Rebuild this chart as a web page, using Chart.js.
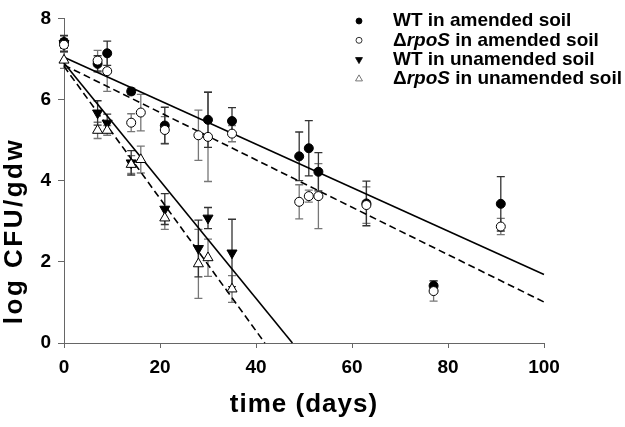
<!DOCTYPE html>
<html>
<head>
<meta charset="utf-8">
<script src="https://cdn.jsdelivr.net/npm/chart.js@4.4.0/dist/chart.umd.min.js"></script>
<style>
  html, body { margin: 0; padding: 0; background: #fff; }
  #wrap { width: 625px; height: 427px; }
</style>
</head>
<body>
<div id="wrap"><canvas id="survivalChart" width="625" height="427"></canvas></div>
<script>
// axis ticks
const xTicks = [0, 20, 40, 60, 80, 100];
const yTicks = [0, 2, 4, 6, 8];

// series: day, log CFU/gdw, error (+/-)
const wtAmendedDays = [0, 7, 9, 14, 21, 30, 35, 49, 51, 53, 63, 77, 91];
const wtAmendedLog  = [7.42, 6.88, 7.14, 6.2, 5.36, 5.5, 5.47, 4.6, 4.8, 4.22, 3.44, 1.41, 3.43];
const wtAmendedErr  = [0.15, 0.2, 0.3, 0.08, 0.45, 0.68, 0.33, 0.6, 0.68, 0.47, 0.55, 0.12, 0.67];

const rpoSAmendedDays = [0, 7, 9, 14, 16, 21, 28, 30, 35, 49, 51, 53, 63, 77, 91];
const rpoSAmendedLog  = [7.35, 6.96, 6.7, 5.43, 5.68, 5.25, 5.12, 5.08, 5.16, 3.48, 3.62, 3.62, 3.4, 1.28, 2.87];
const rpoSAmendedErr  = [0.15, 0.25, 0.5, 0.22, 0.45, 0.33, 0.62, 1.1, 0.2, 0.42, 0.15, 0.8, 0.45, 0.25, 0.2];

const wtUnamendedDays = [0, 7, 9, 14, 21, 28, 30, 35];
const wtUnamendedLog  = [7.38, 5.67, 5.42, 4.44, 3.3, 2.33, 3.08, 2.22];
const wtUnamendedErr  = [0.2, 0.3, 0.22, 0.3, 0.38, 0.7, 0.26, 0.83];

const rpoSUnamendedDays = [0, 7, 9, 14, 16, 21, 28, 30, 35];
const rpoSUnamendedLog  = [6.97, 5.24, 5.24, 4.4, 4.52, 3.08, 1.95, 2.1, 1.33];
const rpoSUnamendedErr  = [0.2, 0.2, 0.12, 0.22, 0.33, 0.28, 0.85, 0.46, 0.33];

// regression lines (same order as series)
const fitIntercept = [7.04, 6.85, 6.9, 6.82];
const fitSlope     = [-0.0535, -0.0584, -0.145, -0.163];

const legendLabels = ['WT in amended soil', '\u0394rpoS in amended soil', 'WT in unamended soil', '\u0394rpoS in unamended soil'];

const FONT = '"Liberation Sans", Arial, sans-serif';

function points(days, vals) {
  return days.map((d, i) => ({ x: d, y: vals[i] }));
}

function fitLine(i) {
  // line stops at x axis or at day 100
  const end = Math.min(100, -fitIntercept[i] / fitSlope[i]);
  return [{ x: 0, y: fitIntercept[i] }, { x: end, y: fitIntercept[i] + fitSlope[i] * end }];
}

const markerStyles = [
  { pointStyle: 'circle', radius: 4.5, rotation: 0, fill: '#000' },
  { pointStyle: 'circle', radius: 4.5, rotation: 0, fill: '#fff' },
  { pointStyle: 'triangle', radius: 5.8, rotation: 180, fill: '#000' },
  { pointStyle: 'triangle', radius: 5.8, rotation: 0, fill: '#fff' }
];

function markerSet(label, days, vals, errs, idx, errColor, order) {
  const m = markerStyles[idx];
  return {
    label: label,
    data: points(days, vals),
    errors: errs,
    errorColor: errColor,
    pointStyle: m.pointStyle,
    rotation: m.rotation,
    pointRadius: m.radius,
    backgroundColor: m.fill,
    borderColor: '#000',
    borderWidth: 1,
    showLine: false,
    clip: false,
    order: order
  };
}

function lineSet(i, dashed) {
  return {
    data: fitLine(i),
    showLine: true,
    pointRadius: 0,
    borderColor: '#000',
    borderWidth: 1.6,
    borderDash: dashed ? [7, 4] : [],
    clip: false,
    order: 5
  };
}

// error bars drawn under the markers
const errorBars = {
  id: 'errorBars',
  beforeDatasetsDraw(chart) {
    const ctx = chart.ctx;
    const xs = chart.scales.x, ys = chart.scales.y;
    chart.data.datasets.forEach(ds => {
      if (!ds.errors) return;
      ctx.save();
      ctx.strokeStyle = ds.errorColor;
      ctx.lineWidth = 1.3;
      ds.data.forEach((p, i) => {
        const px = xs.getPixelForValue(p.x);
        const top = ys.getPixelForValue(p.y + ds.errors[i]);
        const bot = ys.getPixelForValue(p.y - ds.errors[i]);
        ctx.beginPath();
        ctx.moveTo(px, top); ctx.lineTo(px, bot);
        ctx.moveTo(px - 4, top); ctx.lineTo(px + 4, top);
        ctx.moveTo(px - 4, bot); ctx.lineTo(px + 4, bot);
        ctx.stroke();
      });
      ctx.restore();
    });
  }
};

function drawMarker(ctx, idx, x, y, r) {
  const m = markerStyles[idx];
  ctx.beginPath();
  if (m.pointStyle === 'circle') {
    ctx.arc(x, y, r, 0, Math.PI * 2);
  } else {
    const dir = m.rotation === 180 ? -1 : 1;
    ctx.moveTo(x, y - dir * r);
    ctx.lineTo(x + r * 0.866, y + dir * r * 0.5);
    ctx.lineTo(x - r * 0.866, y + dir * r * 0.5);
    ctx.closePath();
  }
  ctx.fillStyle = m.fill;
  ctx.fill();
  ctx.strokeStyle = idx === 3 ? '#555' : '#000';
  ctx.lineWidth = 0.8;
  ctx.stroke();
}

// legend with italic gene name + axis titles
const labelsPlugin = {
  id: 'labelsPlugin',
  afterDraw(chart) {
    const ctx = chart.ctx;
    ctx.save();
    ctx.textBaseline = 'middle';
    ctx.textAlign = 'left';
    legendLabels.forEach((text, i) => {
      const y = 21 + i * 19.3;
      drawMarker(ctx, i, 359, y, i < 2 ? 3 : 4);
      let x = 393;
      const k = text.indexOf('rpoS');
      const parts = k < 0 ? [[text, false]] : [[text.slice(0, k), false], ['rpoS', true], [text.slice(k + 4), false]];
      ctx.fillStyle = '#000';
      parts.forEach(([s, it]) => {
        ctx.font = (it ? 'italic ' : '') + 'bold 19px ' + FONT;
        ctx.fillText(s, x, y);
        x += ctx.measureText(s).width;
      });
    });

    ctx.font = 'bold 26px ' + FONT;
    ctx.textAlign = 'center';
    if ('letterSpacing' in ctx) ctx.letterSpacing = '1px';
    ctx.fillText('time (days)', (chart.chartArea.left + chart.chartArea.right) / 2, 405);

    ctx.translate(15, 231);
    ctx.rotate(-Math.PI / 2);
    if ('letterSpacing' in ctx) ctx.letterSpacing = '2.5px';
    ctx.fillText('log CFU/gdw', 0, 0);
    ctx.restore();
  }
};

const tickFont = { family: FONT, size: 19, weight: 'bold' };

new Chart(document.getElementById('survivalChart'), {
  type: 'scatter',
  data: {
    datasets: [
      markerSet(legendLabels[3], rpoSUnamendedDays, rpoSUnamendedLog, rpoSUnamendedErr, 3, '#777', 0),
      markerSet(legendLabels[1], rpoSAmendedDays, rpoSAmendedLog, rpoSAmendedErr, 1, '#777', 1),
      markerSet(legendLabels[2], wtUnamendedDays, wtUnamendedLog, wtUnamendedErr, 2, '#333', 2),
      markerSet(legendLabels[0], wtAmendedDays, wtAmendedLog, wtAmendedErr, 0, '#333', 3),
      lineSet(0, false),
      lineSet(1, true),
      lineSet(2, false),
      lineSet(3, true)
    ]
  },
  options: {
    responsive: false,
    animation: false,
    layout: { padding: { top: 10, right: 81, left: 0, bottom: 0 } },
    plugins: { legend: { display: false }, tooltip: { enabled: false } },
    scales: {
      x: {
        type: 'linear', min: 0, max: 100,
        afterFit(s) { s.height = 84; },
        afterBuildTicks(s) { s.ticks = xTicks.map(v => ({ value: v })); },
        ticks: { font: tickFont, color: '#000', padding: 8 },
        grid: { drawOnChartArea: false, drawTicks: true, tickLength: 5, color: '#666' },
        border: { color: '#666', width: 1 }
      },
      y: {
        type: 'linear', min: 0, max: 8,
        afterFit(s) { s.width = 64; },
        afterBuildTicks(s) { s.ticks = yTicks.map(v => ({ value: v })); },
        ticks: { font: tickFont, color: '#000', padding: 7 },
        grid: { drawOnChartArea: false, drawTicks: true, tickLength: 6, color: '#666' },
        border: { color: '#666', width: 1 }
      }
    }
  },
  plugins: [errorBars, labelsPlugin]
});
</script>
</body>
</html>
